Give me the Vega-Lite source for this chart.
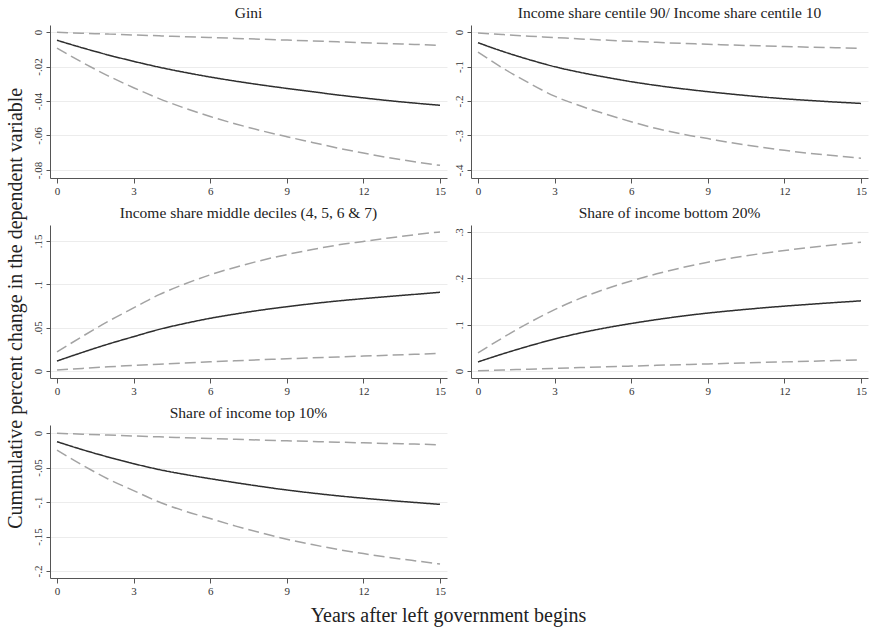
{
  "$schema": "https://vega.github.io/schema/vega-lite/v6.json",
  "background": "white",
  "padding": 5,
  "bounds": "flush",
  "columns": 2,
  "spacing": {"row": 47, "column": 24},
  "title": {"text": "Cummulative percent change in the dependent variable", "orient": "left", "anchor": "middle", "fontSize": 20, "offset": 6, "dx": 7, "font": "Liberation Serif", "fontWeight": "normal", "color": "#222"},
  "config": {
    "view": {"stroke": null},
    "font": "Liberation Serif",
    "axis": {"labelFont": "Liberation Serif", "titleFont": "Liberation Serif", "labelFontSize": 11, "labelColor": "#333", "domainColor": "#555", "tickColor": "#555", "tickSize": 4, "titleFontWeight": "normal", "gridColor": "#ececec", "titleColor": "#222", "labelOverlap": false},
    "axisY": {"labelAngle": 270, "labelAlign": "center", "labelBaseline": "bottom", "labelPadding": 3, "grid": true, "labelOverlap": false, "title": null, "labelExpr": "datum.value == 0 ? '0' : (datum.value < 0 ? '-' : '') + replace(format(abs(datum.value), '.2~f'), '0.', '.')"},
    "axisX": {"grid": false, "labelAngle": 0, "tickSize": 5, "labelPadding": 2, "labelOverlap": false},
    "title": {"font": "Liberation Serif", "fontSize": 15.5, "fontWeight": "normal", "color": "#222", "offset": 4},
    "line": {"strokeWidth": 1.5, "interpolate": "monotone"}
  },
  "datasets": {
    "d": [
      {"p":"gini","t":0,"est":-0.0048,"lo":-0.0094,"hi":-0.0002},
      {"p":"gini","t":1,"est":-0.0092,"lo":-0.0177,"hi":-0.0007},
      {"p":"gini","t":2,"est":-0.0133,"lo":-0.0254,"hi":-0.0012},
      {"p":"gini","t":3,"est":-0.0170,"lo":-0.0323,"hi":-0.0017},
      {"p":"gini","t":4,"est":-0.0204,"lo":-0.0386,"hi":-0.0022},
      {"p":"gini","t":5,"est":-0.0234,"lo":-0.0441,"hi":-0.0027},
      {"p":"gini","t":6,"est":-0.0261,"lo":-0.0490,"hi":-0.0032},
      {"p":"gini","t":7,"est":-0.0285,"lo":-0.0533,"hi":-0.0037},
      {"p":"gini","t":8,"est":-0.0307,"lo":-0.0572,"hi":-0.0042},
      {"p":"gini","t":9,"est":-0.0327,"lo":-0.0607,"hi":-0.0047},
      {"p":"gini","t":10,"est":-0.0346,"lo":-0.0640,"hi":-0.0052},
      {"p":"gini","t":11,"est":-0.0365,"lo":-0.0673,"hi":-0.0057},
      {"p":"gini","t":12,"est":-0.0382,"lo":-0.0702,"hi":-0.0062},
      {"p":"gini","t":13,"est":-0.0398,"lo":-0.0729,"hi":-0.0067},
      {"p":"gini","t":14,"est":-0.0412,"lo":-0.0752,"hi":-0.0072},
      {"p":"gini","t":15,"est":-0.0425,"lo":-0.0773,"hi":-0.0077},

      {"p":"r9010","t":0,"est":-0.031,"lo":-0.058,"hi":-0.003},
      {"p":"r9010","t":1,"est":-0.057,"lo":-0.106,"hi":-0.0075},
      {"p":"r9010","t":2,"est":-0.080,"lo":-0.148,"hi":-0.012},
      {"p":"r9010","t":3,"est":-0.1005,"lo":-0.186,"hi":-0.016},
      {"p":"r9010","t":4,"est":-0.117,"lo":-0.214,"hi":-0.020},
      {"p":"r9010","t":5,"est":-0.131,"lo":-0.238,"hi":-0.0235},
      {"p":"r9010","t":6,"est":-0.144,"lo":-0.260,"hi":-0.027},
      {"p":"r9010","t":7,"est":-0.155,"lo":-0.280,"hi":-0.030},
      {"p":"r9010","t":8,"est":-0.1645,"lo":-0.296,"hi":-0.033},
      {"p":"r9010","t":9,"est":-0.173,"lo":-0.309,"hi":-0.0355},
      {"p":"r9010","t":10,"est":-0.1805,"lo":-0.322,"hi":-0.038},
      {"p":"r9010","t":11,"est":-0.1875,"lo":-0.333,"hi":-0.040},
      {"p":"r9010","t":12,"est":-0.1935,"lo":-0.343,"hi":-0.042},
      {"p":"r9010","t":13,"est":-0.1985,"lo":-0.352,"hi":-0.044},
      {"p":"r9010","t":14,"est":-0.203,"lo":-0.359,"hi":-0.0455},
      {"p":"r9010","t":15,"est":-0.207,"lo":-0.366,"hi":-0.047},

      {"p":"mid","t":0,"est":0.0115,"lo":0.0010,"hi":0.0220},
      {"p":"mid","t":1,"est":0.0215,"lo":0.0030,"hi":0.0400},
      {"p":"mid","t":2,"est":0.0310,"lo":0.0048,"hi":0.0572},
      {"p":"mid","t":3,"est":0.0396,"lo":0.0064,"hi":0.0728},
      {"p":"mid","t":4,"est":0.0480,"lo":0.0079,"hi":0.0881},
      {"p":"mid","t":5,"est":0.0548,"lo":0.0093,"hi":0.1003},
      {"p":"mid","t":6,"est":0.0608,"lo":0.0106,"hi":0.1110},
      {"p":"mid","t":7,"est":0.0658,"lo":0.0118,"hi":0.1198},
      {"p":"mid","t":8,"est":0.0703,"lo":0.0130,"hi":0.1276},
      {"p":"mid","t":9,"est":0.0742,"lo":0.0141,"hi":0.1343},
      {"p":"mid","t":10,"est":0.0777,"lo":0.0152,"hi":0.1402},
      {"p":"mid","t":11,"est":0.0808,"lo":0.0162,"hi":0.1454},
      {"p":"mid","t":12,"est":0.0835,"lo":0.0172,"hi":0.1495},
      {"p":"mid","t":13,"est":0.0860,"lo":0.0182,"hi":0.1535},
      {"p":"mid","t":14,"est":0.0884,"lo":0.0192,"hi":0.1572},
      {"p":"mid","t":15,"est":0.0908,"lo":0.0204,"hi":0.1605},

      {"p":"b20","t":0,"est":0.0196,"lo":0.0005,"hi":0.0390},
      {"p":"b20","t":1,"est":0.0375,"lo":0.0022,"hi":0.0728},
      {"p":"b20","t":2,"est":0.0540,"lo":0.0039,"hi":0.1041},
      {"p":"b20","t":3,"est":0.0690,"lo":0.0056,"hi":0.1324},
      {"p":"b20","t":4,"est":0.0820,"lo":0.0073,"hi":0.1567},
      {"p":"b20","t":5,"est":0.0930,"lo":0.0090,"hi":0.1770},
      {"p":"b20","t":6,"est":0.1025,"lo":0.0106,"hi":0.1944},
      {"p":"b20","t":7,"est":0.1110,"lo":0.0122,"hi":0.2098},
      {"p":"b20","t":8,"est":0.1185,"lo":0.0138,"hi":0.2232},
      {"p":"b20","t":9,"est":0.1250,"lo":0.0153,"hi":0.2347},
      {"p":"b20","t":10,"est":0.1305,"lo":0.0168,"hi":0.2442},
      {"p":"b20","t":11,"est":0.1355,"lo":0.0183,"hi":0.2527},
      {"p":"b20","t":12,"est":0.1400,"lo":0.0197,"hi":0.2600},
      {"p":"b20","t":13,"est":0.1440,"lo":0.0211,"hi":0.2665},
      {"p":"b20","t":14,"est":0.1478,"lo":0.0225,"hi":0.2725},
      {"p":"b20","t":15,"est":0.1514,"lo":0.0240,"hi":0.2780},

      {"p":"t10","t":0,"est":-0.0126,"lo":-0.0249,"hi":-0.0003},
      {"p":"t10","t":1,"est":-0.0242,"lo":-0.0467,"hi":-0.0017},
      {"p":"t10","t":2,"est":-0.0348,"lo":-0.0666,"hi":-0.0030},
      {"p":"t10","t":3,"est":-0.0444,"lo":-0.0835,"hi":-0.0043},
      {"p":"t10","t":4,"est":-0.0530,"lo":-0.1000,"hi":-0.0056},
      {"p":"t10","t":5,"est":-0.0600,"lo":-0.1130,"hi":-0.0068},
      {"p":"t10","t":6,"est":-0.0662,"lo":-0.1240,"hi":-0.0080},
      {"p":"t10","t":7,"est":-0.0720,"lo":-0.1349,"hi":-0.0091},
      {"p":"t10","t":8,"est":-0.0775,"lo":-0.1448,"hi":-0.0102},
      {"p":"t10","t":9,"est":-0.0826,"lo":-0.1539,"hi":-0.0113},
      {"p":"t10","t":10,"est":-0.0870,"lo":-0.1617,"hi":-0.0123},
      {"p":"t10","t":11,"est":-0.0910,"lo":-0.1687,"hi":-0.0133},
      {"p":"t10","t":12,"est":-0.0945,"lo":-0.1747,"hi":-0.0143},
      {"p":"t10","t":13,"est":-0.0977,"lo":-0.1802,"hi":-0.0152},
      {"p":"t10","t":14,"est":-0.1006,"lo":-0.1851,"hi":-0.0161},
      {"p":"t10","t":15,"est":-0.1034,"lo":-0.1898,"hi":-0.0170}
    ]
  },
  "concat": [
    {
      "width": 397, "height": 153,
      "title": "Gini",
      "data": {"name": "d"},
      "transform": [{"filter": "datum.p == 'gini'"}, {"fold": ["hi", "lo", "est"], "as": ["s", "v"]}],
      "mark": "line",
      "encoding": {
        "x": {"field": "t", "type": "quantitative", "title": null, "scale": {"domain": [-0.274, 15.274], "nice": false, "zero": false}, "axis": {"values": [0,3,6,9,12,15]}},
        "y": {"field": "v", "type": "quantitative", "title": null, "scale": {"domain": [-0.08464, 0.00406], "nice": false, "zero": false}, "axis": {"values": [0,-0.02,-0.04,-0.06,-0.08], "labelOverlap": false}},
        "color": {"field": "s", "type": "nominal", "scale": {"domain": ["est","hi","lo"], "range": ["#2e2e2e","#a3a3a3","#a3a3a3"]}, "legend": null},
        "strokeDash": {"field": "s", "type": "nominal", "scale": {"domain": ["est","hi","lo"], "range": [[1,0],[11,5],[11,5]]}, "legend": null}
      }
    },
    {
      "width": 397, "height": 153,
      "title": "Income share centile 90/ Income share centile 10",
      "data": {"name": "d"},
      "transform": [{"filter": "datum.p == 'r9010'"}, {"fold": ["hi", "lo", "est"], "as": ["s", "v"]}],
      "mark": "line",
      "encoding": {
        "x": {"field": "t", "type": "quantitative", "title": null, "scale": {"domain": [-0.274, 15.274], "nice": false, "zero": false}, "axis": {"values": [0,3,6,9,12,15]}},
        "y": {"field": "v", "type": "quantitative", "title": null, "scale": {"domain": [-0.4232, 0.0203], "nice": false, "zero": false}, "axis": {"values": [0,-0.1,-0.2,-0.3,-0.4], "labelOverlap": false}},
        "color": {"field": "s", "type": "nominal", "scale": {"domain": ["est","hi","lo"], "range": ["#2e2e2e","#a3a3a3","#a3a3a3"]}, "legend": null},
        "strokeDash": {"field": "s", "type": "nominal", "scale": {"domain": ["est","hi","lo"], "range": [[1,0],[11,5],[11,5]]}, "legend": null}
      }
    },
    {
      "width": 397, "height": 153,
      "title": "Income share middle deciles (4, 5, 6 & 7)",
      "data": {"name": "d"},
      "transform": [{"filter": "datum.p == 'mid'"}, {"fold": ["hi", "lo", "est"], "as": ["s", "v"]}],
      "mark": "line",
      "encoding": {
        "x": {"field": "t", "type": "quantitative", "title": null, "scale": {"domain": [-0.274, 15.274], "nice": false, "zero": false}, "axis": {"values": [0,3,6,9,12,15]}},
        "y": {"field": "v", "type": "quantitative", "title": null, "scale": {"domain": [-0.0081, 0.16846], "nice": false, "zero": false}, "axis": {"values": [0,0.05,0.1,0.15], "labelOverlap": false}},
        "color": {"field": "s", "type": "nominal", "scale": {"domain": ["est","hi","lo"], "range": ["#2e2e2e","#a3a3a3","#a3a3a3"]}, "legend": null},
        "strokeDash": {"field": "s", "type": "nominal", "scale": {"domain": ["est","hi","lo"], "range": [[1,0],[11,5],[11,5]]}, "legend": null}
      }
    },
    {
      "width": 397, "height": 153,
      "title": "Share of income bottom 20%",
      "data": {"name": "d"},
      "transform": [{"filter": "datum.p == 'b20'"}, {"fold": ["hi", "lo", "est"], "as": ["s", "v"]}],
      "mark": "line",
      "encoding": {
        "x": {"field": "t", "type": "quantitative", "title": null, "scale": {"domain": [-0.274, 15.274], "nice": false, "zero": false}, "axis": {"values": [0,3,6,9,12,15]}},
        "y": {"field": "v", "type": "quantitative", "title": null, "scale": {"domain": [-0.0151, 0.3151], "nice": false, "zero": false}, "axis": {"values": [0,0.1,0.2,0.3], "labelOverlap": false}},
        "color": {"field": "s", "type": "nominal", "scale": {"domain": ["est","hi","lo"], "range": ["#2e2e2e","#a3a3a3","#a3a3a3"]}, "legend": null},
        "strokeDash": {"field": "s", "type": "nominal", "scale": {"domain": ["est","hi","lo"], "range": [[1,0],[11,5],[11,5]]}, "legend": null}
      }
    },
    {
      "width": 397, "height": 153,
      "title": "Share of income top 10%",
      "data": {"name": "d"},
      "transform": [{"filter": "datum.p == 't10'"}, {"fold": ["hi", "lo", "est"], "as": ["s", "v"]}],
      "mark": "line",
      "encoding": {
        "x": {"field": "t", "type": "quantitative", "title": "Years after left government begins", "scale": {"domain": [-0.274, 15.274], "nice": false, "zero": false}, "axis": {"values": [0,3,6,9,12,15], "titleFontSize": 20, "titlePadding": 9, "titleX": 398, "titleAlign": "center"}},
        "y": {"field": "v", "type": "quantitative", "title": null, "scale": {"domain": [-0.2101, 0.0116], "nice": false, "zero": false}, "axis": {"values": [0,-0.05,-0.1,-0.15,-0.2], "labelOverlap": false}},
        "color": {"field": "s", "type": "nominal", "scale": {"domain": ["est","hi","lo"], "range": ["#2e2e2e","#a3a3a3","#a3a3a3"]}, "legend": null},
        "strokeDash": {"field": "s", "type": "nominal", "scale": {"domain": ["est","hi","lo"], "range": [[1,0],[11,5],[11,5]]}, "legend": null}
      }
    }
  ]
}
